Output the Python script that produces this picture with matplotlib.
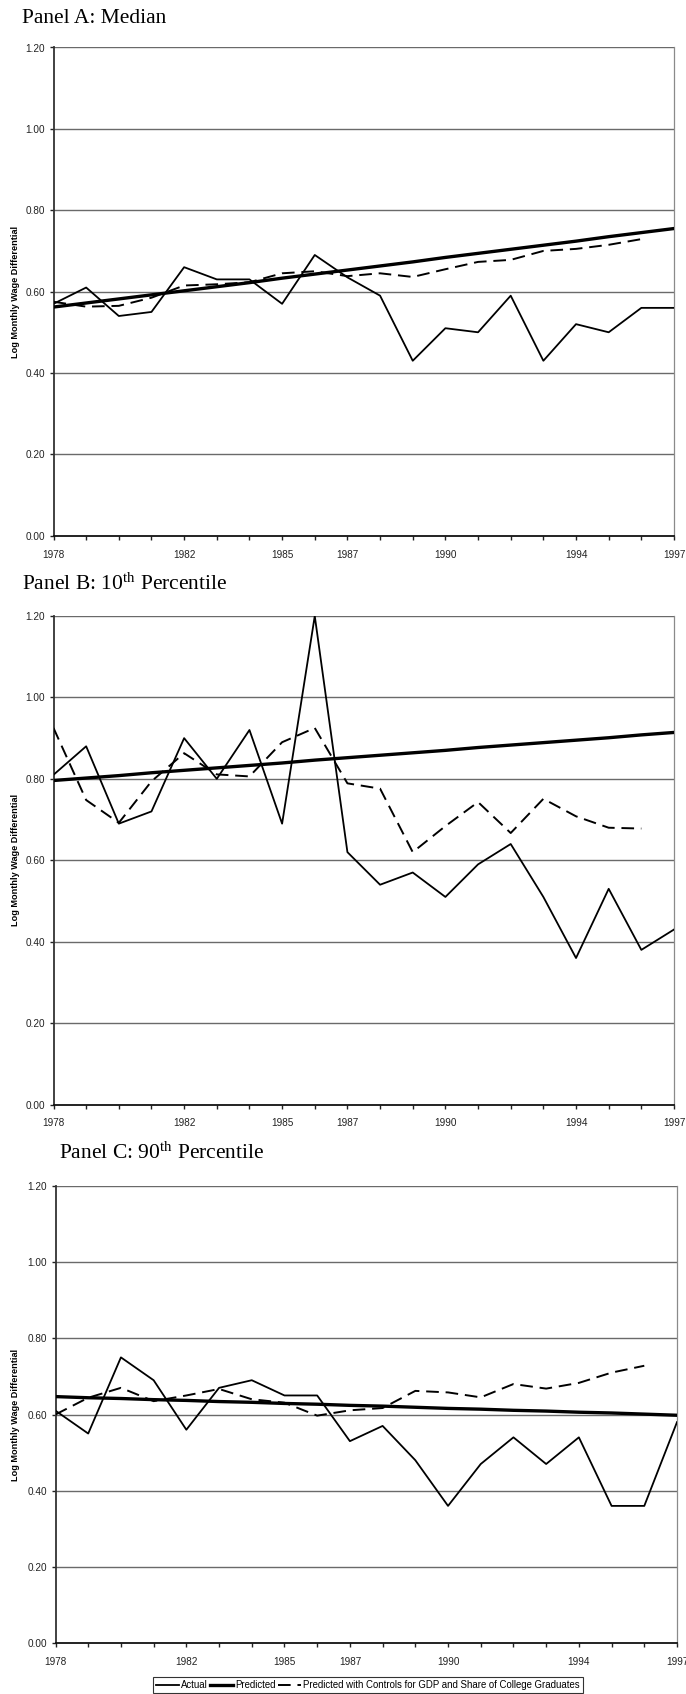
import matplotlib
matplotlib.use("Agg")
import matplotlib.pyplot as plt
from matplotlib import font_manager

# ---------------- data ----------------
years = list(range(1978, 1998))
label_years = [1978, 1982, 1985, 1987, 1990, 1994, 1997]
y_ticks = [0.0, 0.2, 0.4, 0.6, 0.8, 1.0, 1.2]

panel_titles = [r"Panel A: Median",
                r"Panel B: 10$^{\rm th}$ Percentile",
                r"Panel C: 90$^{\rm th}$ Percentile"]
ylabel_text = "Log Monthly Wage Differential"
legend_labels = ["Actual", "Predicted",
                 "Predicted with Controls for GDP and Share of College Graduates"]

median_actual = [0.57, 0.61, 0.54, 0.55, 0.66, 0.63, 0.63, 0.57, 0.69, 0.635,
                 0.59, 0.43, 0.51, 0.50, 0.59, 0.43, 0.52, 0.50, 0.56, 0.56]
median_pred = [0.562, 0.572, 0.582, 0.592, 0.602, 0.612, 0.622, 0.633, 0.643, 0.653,
               0.663, 0.673, 0.684, 0.694, 0.704, 0.714, 0.724, 0.735, 0.745, 0.755]
median_ctrl = [0.575, 0.563, 0.565, 0.585, 0.615, 0.618, 0.623, 0.645, 0.650, 0.638,
               0.645, 0.636, 0.655, 0.673, 0.678, 0.700, 0.705, 0.715, 0.729]

p10_actual = [0.81, 0.88, 0.69, 0.72, 0.90, 0.80, 0.92, 0.69, 1.20, 0.62,
              0.54, 0.57, 0.51, 0.59, 0.64, 0.51, 0.36, 0.53, 0.38, 0.43]
p10_pred = [0.796, 0.802, 0.808, 0.815, 0.821, 0.827, 0.833, 0.839, 0.846, 0.852,
            0.858, 0.864, 0.870, 0.877, 0.883, 0.889, 0.895, 0.901, 0.908, 0.914]
p10_ctrl = [0.925, 0.748, 0.692, 0.794, 0.863, 0.811, 0.806, 0.890, 0.925, 0.789,
            0.776, 0.620, 0.684, 0.743, 0.667, 0.751, 0.708, 0.680, 0.678]

p90_actual = [0.61, 0.55, 0.75, 0.69, 0.56, 0.67, 0.69, 0.65, 0.65, 0.53,
              0.57, 0.48, 0.36, 0.47, 0.54, 0.47, 0.54, 0.36, 0.36, 0.58]
p90_pred = [0.647, 0.644, 0.642, 0.639, 0.637, 0.634, 0.632, 0.629, 0.627, 0.624,
            0.622, 0.619, 0.616, 0.614, 0.611, 0.609, 0.606, 0.604, 0.601, 0.598]
p90_ctrl = [0.600, 0.644, 0.670, 0.635, 0.650, 0.667, 0.640, 0.631, 0.597, 0.611,
            0.617, 0.662, 0.658, 0.645, 0.680, 0.668, 0.683, 0.710, 0.728]

panels = [(median_actual, median_pred, median_ctrl),
          (p10_actual, p10_pred, p10_ctrl),
          (p90_actual, p90_pred, p90_ctrl)]

# ---------------- style ----------------
names = {f.name for f in font_manager.fontManager.ttflist}
SANS = "Liberation Sans" if "Liberation Sans" in names else "DejaVu Sans"
NARROW = "Liberation Sans Narrow" if "Liberation Sans Narrow" in names else SANS
SERIF = "Liberation Serif" if "Liberation Serif" in names else "DejaVu Serif"

plt.rcParams["font.family"] = [SANS, "DejaVu Sans"]
plt.rcParams["mathtext.fontset"] = "custom"
plt.rcParams["mathtext.rm"] = SERIF
plt.rcParams["mathtext.it"] = SERIF + ":italic"
plt.rcParams["mathtext.bf"] = SERIF + ":bold"

W, H = 686, 1694
fig = plt.figure(figsize=(W / 100, H / 100), dpi=100)


def add_ax(l, r, t, b):
    return fig.add_axes([l / W, 1 - b / H, (r - l) / W, (b - t) / H])


# pixel boxes: left, right, top, bottom
boxes = [(53.5, 674, 47.5, 535.7),
         (53.5, 674, 616, 1104.6),
         (55.5, 677, 1186, 1643)]
title_pos = [(22, 23), (22, 590), (59, 1159)]
tick_fonts = [(SANS, 7.2, SANS, 7.2), (SANS, 7.2, SANS, 7.2), (NARROW, 7.2, NARROW, 7.2)]

handles = None
for i, (box, (act, pred, ctrl)) in enumerate(zip(boxes, panels)):
    l, r, t, b = box
    ax = add_ax(l, r, t, b)
    ax.set_xlim(years[0], years[-1])
    ax.set_ylim(0, 1.2)
    ax.set_yticks(y_ticks)
    ax.set_yticklabels([f"{v:.2f}" for v in y_ticks])
    ax.set_xticks(years)
    ax.set_xticklabels([str(y) if y in label_years else "" for y in years])

    for yv in y_ticks[1:]:
        ax.axhline(yv, color="#6a6a6a", lw=1.0, zorder=1)

    ax.spines["top"].set_visible(False)
    ax.spines["right"].set_color("#8a8a8a")
    ax.spines["right"].set_linewidth(0.9)
    ax.spines["left"].set_color("#333333")
    ax.spines["left"].set_linewidth(1.3)
    ax.spines["bottom"].set_color("#111111")
    ax.spines["bottom"].set_linewidth(1.3)

    yf, ys, xf, xs = tick_fonts[i]
    ax.tick_params(axis="y", direction="out", length=3, width=1.0, pad=3,
                   color="#222222")
    ax.tick_params(axis="x", direction="out", length=3, width=1.0, pad=7,
                   color="#222222")
    for lab in ax.get_yticklabels():
        lab.set_fontfamily(yf)
        lab.set_fontsize(ys)
        lab.set_color("#222222")
    for lab in ax.get_xticklabels():
        lab.set_fontfamily(xf)
        lab.set_fontsize(xs)
        lab.set_color("#222222")

    la, = ax.plot(years, act, color="black", lw=1.3, zorder=3)
    lp, = ax.plot(years, pred, color="black", lw=2.4, zorder=4)
    lc, = ax.plot(years[:len(ctrl)], ctrl, color="black", lw=1.4,
                  dashes=(6.5, 3.5), zorder=3)
    handles = [la, lp, lc]

    fig.text(title_pos[i][0] / W, 1 - title_pos[i][1] / H, panel_titles[i],
             fontsize=15.5, family=SERIF, ha="left", va="baseline")
    fig.text(15.5 / W, 1 - ((t + b) / 2) / H, ylabel_text, rotation=90,
             fontsize=6.6, fontweight="bold", ha="center", va="center",
             family=SANS)

leg = fig.legend(handles, legend_labels, loc="center",
                 bbox_to_anchor=(368 / W, 1 - 1685 / H), ncol=3,
                 prop={"family": NARROW, "size": 6.9},
                 handlelength=2.4, handletextpad=0.2, columnspacing=0.25,
                 borderpad=0.3, frameon=True, fancybox=False,
                 borderaxespad=0)
leg.get_frame().set_edgecolor("black")
leg.get_frame().set_linewidth(0.8)

fig.savefig("out.png", dpi=100)
